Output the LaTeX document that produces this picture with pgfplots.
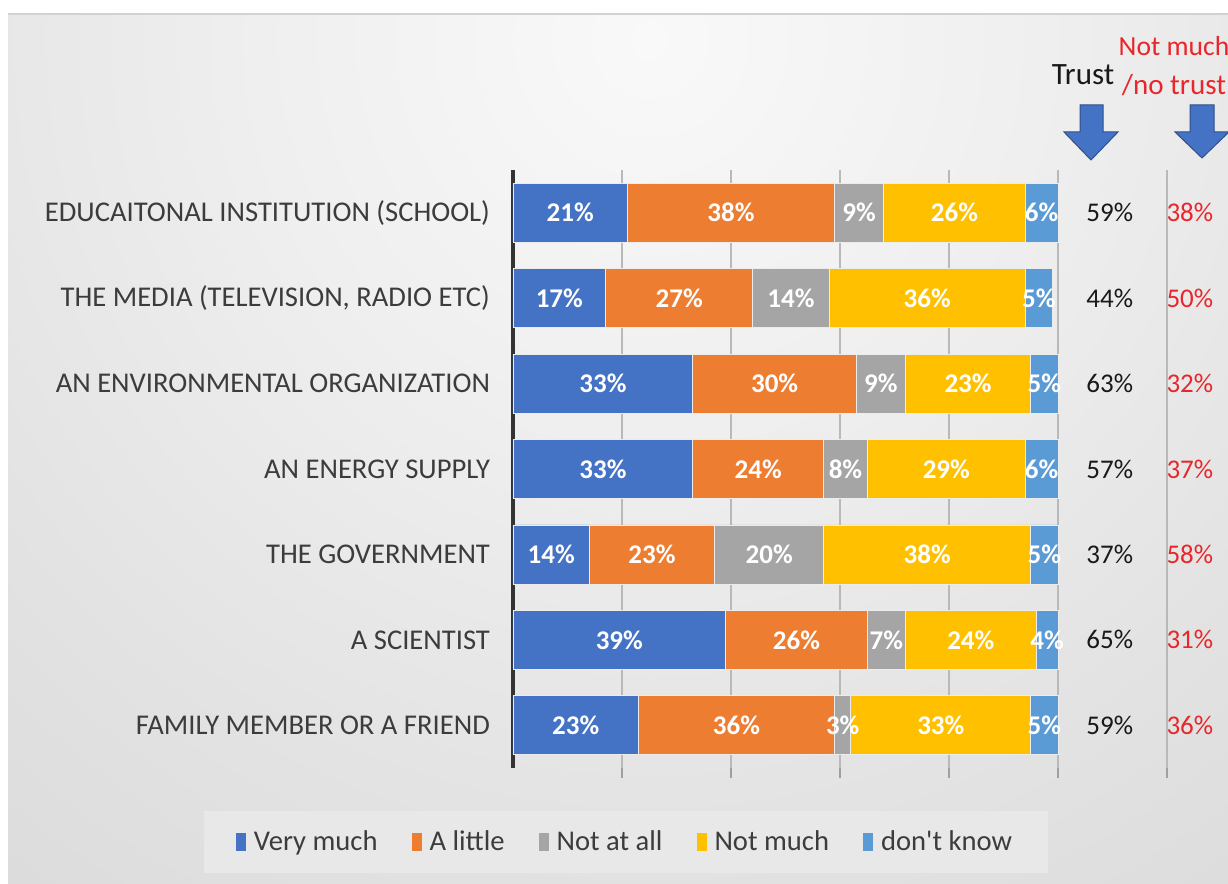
\documentclass[border=0pt]{standalone}
\usepackage{pgfplots}
\pgfplotsset{compat=1.18}
\usepackage{pgfplotstable}
\usepackage{fontspec}
\setmainfont{Carlito}[Ligatures=TeXOff]
\definecolor{cVM}{HTML}{4472C4}
\definecolor{cAL}{HTML}{ED7D31}
\definecolor{cNA}{HTML}{A5A5A5}
\definecolor{cNM}{HTML}{FFC000}
\definecolor{cDK}{HTML}{5B9BD5}
\definecolor{txt}{HTML}{3C3C3C}
\definecolor{redt}{HTML}{E8262B}
\definecolor{legbg}{HTML}{E8E8E8}
\definecolor{bg0}{HTML}{F9F9F9}
\definecolor{bg1}{HTML}{EFEFEF}
\definecolor{bg2}{HTML}{E3E3E3}
\definecolor{bg3}{HTML}{D8D8D8}
\definecolor{bg4}{HTML}{CECECE}
\definecolor{bg5}{HTML}{C6C6C6}
\definecolor{arrowb}{HTML}{4472C4}
\pgfdeclareradialshading{bgshade}{\pgfpoint{0bp}{0bp}}{color(0bp)=(bg0); color(7bp)=(bg1); color(14bp)=(bg2); color(21.5bp)=(bg3); color(30bp)=(bg4); color(37bp)=(bg5); color(50bp)=(bg5)}

\pgfplotstableread{
cat vm al na nm dk tr nt
1 21 38 9 26 6 59 38
2 17 27 14 36 5 44 50
3 33 30 9 23 5 63 32
4 33 24 8 29 6 57 37
5 14 23 20 38 5 37 58
6 39 26 7 24 4 65 31
7 23 36 3 33 5 59 36
}\data

\pgfplotsset{
  samegeom/.style={at={(256.5pt,58pt)}, anchor=south west,
    scale only axis, width=327pt, height=299pt,
    xmin=0, xmax=120, ymin=0.5, ymax=7.5, y dir=reverse, clip=false},
  lbl/.style={draw=none, nodes near coords={\pgfplotspointmeta\%},
    nodes near coords style={anchor=center, font=\fontsize{13.5}{15}\selectfont\bfseries, text=white}},
  side/.style={draw=none, nodes near coords={\pgfplotspointmeta\%},
    nodes near coords style={anchor=center, font=\fontsize{13.5}{15}\selectfont, text=#1}},
}

\begin{document}
\begin{tikzpicture}[x=1pt,y=1pt]
\fill[white] (0,0) rectangle (614,442);
\begin{scope}
\clip (4,0) rectangle (614,435);
\shade[shading=bgshade] (325,422) circle (700);
\end{scope}
\draw[gray!35, line width=0.8pt] (4,435) -- (614,435);

\begin{axis}[
  samegeom,
  xbar stacked, bar width=29.5pt,
  ytick={1,...,7},
  yticklabels={EDUCAITONAL INSTITUTION (SCHOOL), {THE MEDIA (TELEVISION, RADIO ETC)}, AN ENVIRONMENTAL ORGANIZATION, AN ENERGY SUPPLY, THE GOVERNMENT, A SCIENTIST, FAMILY MEMBER OR A FRIEND},
  yticklabel style={font=\fontsize{14.3}{16}\selectfont, text=txt, xshift=-8pt},
  xtick={20,40,...,120}, xticklabels={},
  xmajorgrids, grid style={gray!55, line width=0.6pt},
  xtick align=outside, major tick length=5pt,
  xtick style={gray!75, line width=0.6pt},
  ytick style={draw=none},
  axis y line*=left, axis x line*=bottom,
  x axis line style={draw=none},
  y axis line style={draw=black!80, line width=1.6pt},
  legend columns=-1,
  legend style={at={(0.1728,-0.1237)}, anchor=center, fill=legbg, draw=none,
    inner xsep=16pt, inner ysep=8pt, font=\fontsize{14.3}{16}\selectfont, text=txt,
    /tikz/every odd column/.append style={column sep=2pt},
    /tikz/every even column/.append style={column sep=15pt}},
  legend image code/.code={\fill[#1, draw=none] (0pt,-4.5pt) rectangle (5pt,4.5pt);},
]
\addplot[fill=cVM, draw=white!85!gray] table[x=vm, y=cat] {\data};
\addplot[fill=cAL, draw=white!85!gray] table[x=al, y=cat] {\data};
\addplot[fill=cNA, draw=white!85!gray] table[x=na, y=cat] {\data};
\addplot[fill=cNM, draw=white!85!gray] table[x=nm, y=cat] {\data};
\addplot[fill=cDK, draw=white!85!gray] table[x=dk, y=cat] {\data};
\legend{Very much, A little, Not at all, Not much, don't know}
\end{axis}

\begin{axis}[samegeom, hide axis, point meta=explicit symbolic]
\addplot[lbl] table[x expr=\thisrow{vm}/2, y=cat, meta=vm] {\data};
\addplot[lbl] table[x expr=\thisrow{vm}+\thisrow{al}/2, y=cat, meta=al] {\data};
\addplot[lbl] table[x expr=\thisrow{vm}+\thisrow{al}+\thisrow{na}/2, y=cat, meta=na] {\data};
\addplot[lbl] table[x expr=\thisrow{vm}+\thisrow{al}+\thisrow{na}+\thisrow{nm}/2, y=cat, meta=nm] {\data};
\addplot[lbl] table[x expr=\thisrow{vm}+\thisrow{al}+\thisrow{na}+\thisrow{nm}+\thisrow{dk}/2, y=cat, meta=dk] {\data};
\addplot[side=black!90] table[x expr=109.5, y=cat, meta=tr] {\data};
\addplot[side=redt] table[x expr=124.2, y=cat, meta=nt] {\data};
\end{axis}

\node[font=\fontsize{15.5}{17}\selectfont, text=black!90] at (541.5,404.5) {Trust};
\node[font=\fontsize{13.8}{16}\selectfont, text=redt] at (587,419) {Not much};
\node[font=\fontsize{14.5}{16}\selectfont, text=redt] at (587,399.5) {/no trust};
\fill[arrowb, draw=arrowb!70!black, line width=0.5pt]
  (540,389.5) -- (551.5,389.5) -- (551.5,376) -- (559,376) -- (545.5,362) -- (532,376) -- (540,376) -- cycle;
\fill[arrowb, draw=arrowb!70!black, line width=0.5pt]
  (595,389.5) -- (607,389.5) -- (607,376) -- (614.5,376) -- (601,363) -- (587.5,376) -- (595,376) -- cycle;

\pgfresetboundingbox
\path (0,0) rectangle (614,442);
\end{tikzpicture}
\end{document}
